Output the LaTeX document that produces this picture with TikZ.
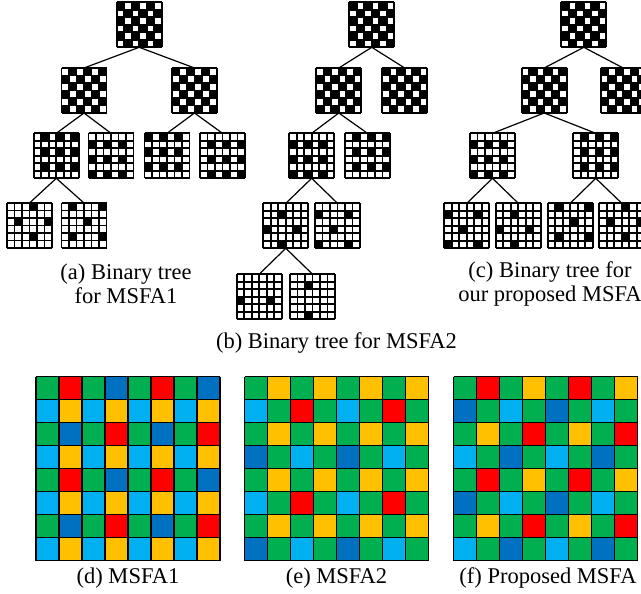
\documentclass[tikz,border=0pt]{standalone}
\usepackage{fontspec}
\setmainfont{Liberation Serif}
\definecolor{cG}{RGB}{0,176,80}
\definecolor{cR}{RGB}{255,0,0}
\definecolor{cB}{RGB}{0,112,192}
\definecolor{cC}{RGB}{0,176,240}
\definecolor{cY}{RGB}{255,192,0}
\tikzset{
  tg/.style={minimum size=45pt, inner sep=0pt, outer sep=0pt, draw=none},
  cg/.style={minimum size=184pt, inner sep=0pt, outer sep=0pt, draw=none},
  gl/.style={line width=1.8pt, black},
  cl/.style={line width=1.5pt, black},
  link/.style={line width=1.2pt, black},
  captxt/.style={font=\fontsize{22.5}{24.5}\selectfont, align=center, inner sep=0pt}
}
\def\PE{1/1,1/3,1/5,2/2,2/4,2/6,3/1,3/3,3/5,4/2,4/4,4/6,5/1,5/3,5/5,6/2,6/4,6/6}
\def\PO{1/2,1/4,1/6,2/1,2/3,2/5,3/2,3/4,3/6,4/1,4/3,4/5,5/2,5/4,5/6,6/1,6/3,6/5}
\def\PORE{1/2,1/4,1/6,3/2,3/4,3/6,5/2,5/4,5/6}
\def\PERO{2/1,2/3,2/5,4/1,4/3,4/5,6/1,6/3,6/5}
\def\PORO{1/1,1/3,1/5,3/1,3/3,3/5,5/1,5/3,5/5}
\def\PERE{2/2,2/4,2/6,4/2,4/4,4/6,6/2,6/4,6/6}
\newcommand\tgrid[4]{%
  \node[tg] (#1) at (#2,#3) {};
  \begin{scope}[shift={(#1.north west)}]
    \fill[white] (0,0) rectangle (45,45);
    \foreach \r/\c in #4 {\fill[black] ({(\c-1)*7.5},{(\r-1)*7.5}) rectangle ++(7.5,7.5);}
    \foreach \i in {0,...,6} {\draw[gl] ({\i*7.5},0) -- ({\i*7.5},45); \draw[gl] (0,{\i*7.5}) -- (45,{\i*7.5});}
  \end{scope}}
\newcommand\cgrid[4]{%
  \node[cg] (#1) at (#2,#3) {};
  \begin{scope}[shift={(#1.north west)}]
    \foreach \row [count=\r] in {#4} {
      \foreach \clr [count=\c] in \row {
        \fill[c\clr] ({(\c-1)*23},{(\r-1)*23}) rectangle ++(23,23);
      }
    }
    \foreach \i in {0,...,8} {\draw[cl] ({\i*23},0) -- ({\i*23},184); \draw[cl] (0,{\i*23}) -- (184,{\i*23});}
  \end{scope}}
\begin{document}
\begin{tikzpicture}[x=1pt,y=-1pt]
\useasboundingbox (0,0) rectangle (641,594);
\clip (0,0) rectangle (641,594);
\fill[white] (0,0) rectangle (641,594);
% (a)
\tgrid{a0}{139.2}{24.8}{\PE}
\tgrid{a1}{84}{90.5}{\PO}
\tgrid{a2}{194.5}{90.5}{\PE}
\tgrid{a3}{56.3}{155.8}{\PORE}
\tgrid{a4}{111}{155.8}{\PERO}
\tgrid{a5}{167}{155.8}{\PORO}
\tgrid{a6}{222.5}{155.8}{\PERE}
\tgrid{a7}{29.5}{225.5}{{1/4,3/2,3/6,5/4}}
\tgrid{a8}{84}{225.5}{{1/2,1/6,3/4,5/2,5/6}}
% (b)
\tgrid{b0}{371.8}{24.8}{\PE}
\tgrid{b1}{338.8}{90.5}{\PO}
\tgrid{b2}{404.7}{90.5}{\PE}
\tgrid{b3}{311.7}{155.8}{\PERO}
\tgrid{b4}{367.5}{155.8}{\PORE}
\tgrid{b5}{285.8}{225.8}{{2/3,4/1,4/5,6/3}}
\tgrid{b6}{337.5}{225.8}{{2/1,2/5,4/3,6/1,6/5}}
\tgrid{b7}{259.2}{296.7}{{4/1,4/5}}
\tgrid{b8}{312.5}{296.7}{{2/3,6/3}}
% (c)
\tgrid{c0}{583.8}{24.8}{\PE}
\tgrid{c1}{544.2}{90.5}{\PO}
\tgrid{c2}{623.2}{90.5}{\PE}
\tgrid{c3}{492.5}{155.8}{\PERO}
\tgrid{c4}{595.8}{155.8}{\PORE}
\tgrid{c5}{466.8}{225.8}{{2/1,2/5,4/3,6/1,6/5}}
\tgrid{c6}{518.3}{225.8}{{2/3,4/1,4/5,6/3}}
\tgrid{c7}{570.2}{225.8}{{1/2,1/6,3/4,5/2,5/6}}
\tgrid{c8}{621.8}{225.8}{{1/4,3/2,3/6,5/4}}
% connectors
\foreach \p/\q in {a0/a1,a0/a2,a1/a3,a1/a4,a2/a5,a2/a6,a3/a7,a3/a8,
                   b0/b1,b0/b2,b1/b3,b1/b4,b3/b5,b3/b6,b5/b7,b5/b8,
                   c0/c1,c0/c2,c1/c3,c1/c4,c3/c5,c3/c6,c4/c7,c4/c8}
  {\draw[link] (\p.south) -- (\q.north);}
% captions
\node[captxt] (ta) at (126,284) {(a) Binary tree\\for MSFA1};
\node[captxt] (tb) at (336.5,343) {(b) Binary tree for MSFA2};
\node[captxt] (tc) at (550,284) {(c) Binary tree for\\our proposed MSFA};
% colour grids
\cgrid{d}{128}{468.7}{{G,R,G,B,G,R,G,B},{C,Y,C,Y,C,Y,C,Y},{G,B,G,R,G,B,G,R},{C,Y,C,Y,C,Y,C,Y},{G,R,G,B,G,R,G,B},{C,Y,C,Y,C,Y,C,Y},{G,B,G,R,G,B,G,R},{C,Y,C,Y,C,Y,C,Y}}
\cgrid{e}{336.7}{468.7}{{G,Y,G,Y,G,Y,G,Y},{C,G,R,G,C,G,R,G},{G,Y,G,Y,G,Y,G,Y},{B,G,C,G,B,G,C,G},{G,Y,G,Y,G,Y,G,Y},{C,G,R,G,C,G,R,G},{G,Y,G,Y,G,Y,G,Y},{B,G,C,G,B,G,C,G}}
\cgrid{f}{545.7}{468.7}{{G,R,G,Y,G,R,G,Y},{B,G,C,G,B,G,C,G},{G,Y,G,R,G,Y,G,R},{C,G,B,G,C,G,B,G},{G,R,G,Y,G,R,G,Y},{B,G,C,G,B,G,C,G},{G,Y,G,R,G,Y,G,R},{C,G,B,G,C,G,B,G}}
\node[captxt] (td) at (128,578) {(d) MSFA1};
\node[captxt] (te) at (336.5,578) {(e) MSFA2};
\node[captxt] (tf) at (548,578) {(f) Proposed MSFA};
\end{tikzpicture}
\end{document}
